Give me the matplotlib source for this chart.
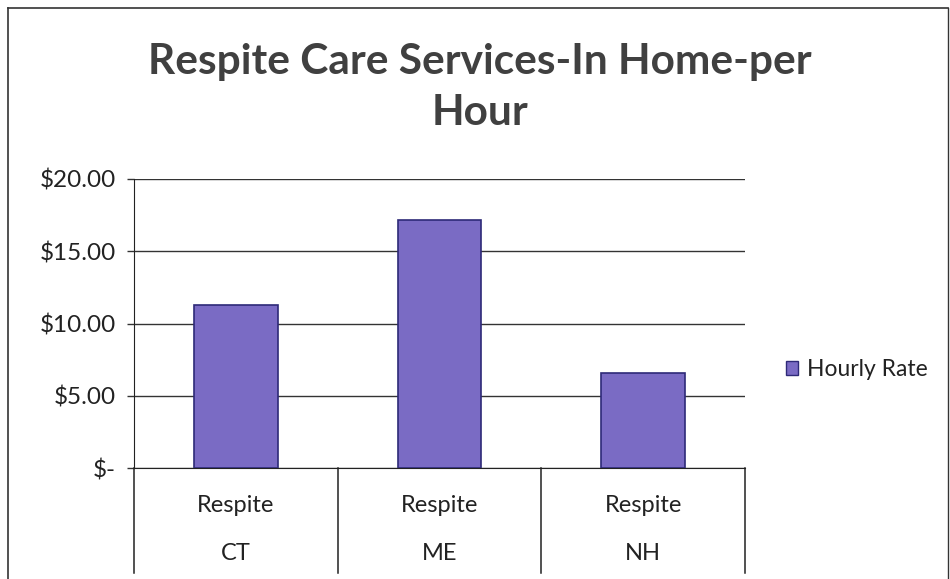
import matplotlib
matplotlib.use("Agg")
import matplotlib.pyplot as plt
from matplotlib.patches import Rectangle
import matplotlib.transforms as mtransforms

# Data
groups = ["Respite", "Respite", "Respite"]
states = ["CT", "ME", "NH"]
hourly_rate = [11.25, 17.15, 6.60]
yticks = [0, 5, 10, 15, 20]
ytick_labels = ["$-", "$5.00", "$10.00", "$15.00", "$20.00"]
series_name = "Hourly Rate"
title_lines = ["Respite Care Services-In Home-per", "Hour"]

FONT = "Lato"
W, H = 950, 579
fig = plt.figure(figsize=(W / 100, H / 100), dpi=100)
fig.patch.set_facecolor("white")

# chart border (left, top, right)
fig.add_artist(plt.Line2D([8 / W, 8 / W], [0, 1 - 8 / H], color="#333333", lw=1.2))
fig.add_artist(plt.Line2D([8 / W, 948 / W], [1 - 8 / H, 1 - 8 / H], color="#333333", lw=1.2))
fig.add_artist(plt.Line2D([948 / W, 948 / W], [0, 1 - 8 / H], color="#333333", lw=1.0))

ax = fig.add_axes([134 / W, 1 - 468 / H, (745 - 134) / W, (468 - 179) / H])
x = list(range(len(states)))
ax.bar(x, hourly_rate, width=0.41, color="#7A6BC4", edgecolor="#2E2A78", linewidth=1.2, zorder=3)
ax.set_xlim(-0.5, len(states) - 0.5)
ax.set_ylim(0, 20)
ax.set_yticks(yticks)
ax.set_yticklabels(ytick_labels, fontname=FONT, fontsize=17.5, color="#222222")
ax.yaxis.grid(True, color="#333333", lw=1.0, zorder=0)
ax.tick_params(axis="y", length=5, width=1, color="#333333", pad=8)
ax.tick_params(axis="x", length=0, labelbottom=False)
for s in ["top", "right"]:
    ax.spines[s].set_visible(False)
ax.spines["left"].set_color("#222222")
ax.spines["bottom"].set_color("#222222")

# multi-level category separators and labels
trans = mtransforms.blended_transform_factory(ax.transData, ax.transAxes)
axh = (468 - 179)
for b in [i - 0.5 for i in range(len(states) + 1)]:
    ax.plot([b, b], [0, -(573 - 468) / axh], transform=trans, color="#222222", lw=1.1, clip_on=False)
for i, (g, s) in enumerate(zip(groups, states)):
    ax.text(i, -(505 - 468) / axh, g, transform=trans, ha="center", va="center",
            fontname=FONT, fontsize=17, color="#222222")
    ax.text(i, -(553 - 468) / axh, s, transform=trans, ha="center", va="center",
            fontname=FONT, fontsize=17, color="#222222")

# title
fig.text(480 / W, 1 - 62 / H, title_lines[0], ha="center", va="center",
         fontname=FONT, fontweight="bold", fontsize=30.5, color="#404040")
fig.text(480 / W, 1 - 113 / H, title_lines[1], ha="center", va="center",
         fontname=FONT, fontweight="bold", fontsize=30.5, color="#404040")

# legend
leg = fig.legend([Rectangle((0, 0), 1, 1, facecolor="#7A6BC4", edgecolor="#2E2A78")], [series_name],
                 loc="center left", bbox_to_anchor=(765 / W, 1 - 370 / H), frameon=False,
                 prop={"family": FONT, "size": 16.5}, handlelength=0.55, handleheight=0.55,
                 handletextpad=0.4)
for t in leg.get_texts():
    t.set_color("#222222")

fig.savefig("out.png", dpi=100)
